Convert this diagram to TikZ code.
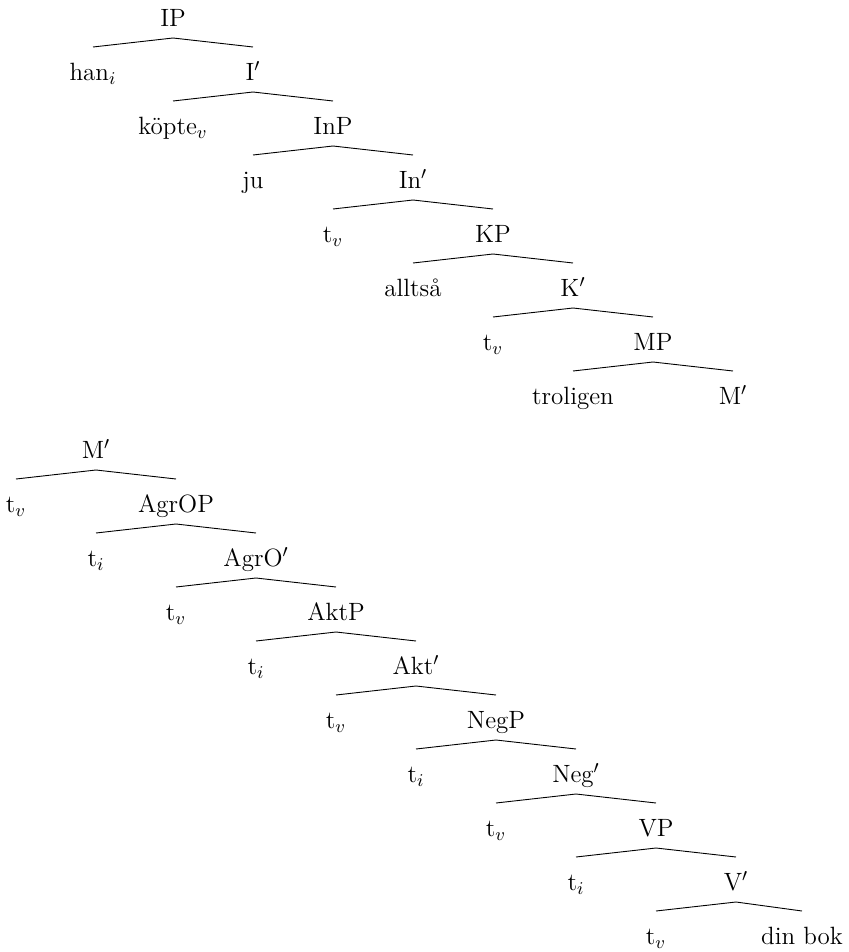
\documentclass[tikz,border=0pt]{standalone}
\usepackage{fontspec}

\tikzset{
  cat/.style={anchor=base, inner sep=0pt, font=\fontsize{12.5}{15}\selectfont},
  branch/.style={line width=0.45pt}
}
\newcommand{\treebranch}[3]{%
  \draw[branch] ([yshift=16.75pt]#2.base) -- ([yshift=-5.75pt]#1.base) -- ([yshift=16.75pt]#3.base);}

\begin{document}
\begin{tikzpicture}[x=0.5pt,y=-0.5pt]
    \useasboundingbox (0,0) rectangle (848,952);

    % upper tree
    \node(ip)[cat] at (173,26.5) {IP};
    \node(han)[cat] at (93,80.5) {han$_i$};
    \node(ibar)[cat] at (253,80.5) {I$'$};
    \node(kopte)[cat] at (173,134.5) {köpte$_v$};
    \node(inp)[cat] at (333,134.5) {InP};
    \node(ju)[cat] at (253,188.5) {ju};
    \node(inbar)[cat] at (413,188.5) {In$'$};
    \node(tva)[cat] at (333,242.5) {t$_v$};
    \node(kp)[cat] at (493,242.5) {KP};
    \node(alltsa)[cat] at (413,296.5) {alltså};
    \node(kbar)[cat] at (573,296.5) {K$'$};
    \node(tvb)[cat] at (493,350.5) {t$_v$};
    \node(mp)[cat] at (653,350.5) {MP};
    \node(troligen)[cat] at (573,404.5) {troligen};
    \node(mbar)[cat] at (733,404.5) {M$'$};

    \treebranch{ip}{han}{ibar}
    \treebranch{ibar}{kopte}{inp}
    \treebranch{inp}{ju}{inbar}
    \treebranch{inbar}{tva}{kp}
    \treebranch{kp}{alltsa}{kbar}
    \treebranch{kbar}{tvb}{mp}
    \treebranch{mp}{troligen}{mbar}

    % lower tree
    \node(mbarb)[cat] at (96,458.5) {M$'$};
    \node(tvc)[cat] at (16,512.5) {t$_v$};
    \node(agrop)[cat] at (176,512.5) {AgrOP};
    \node(tia)[cat] at (96,566.5) {t$_i$};
    \node(agrobar)[cat] at (256,566.5) {AgrO$'$};
    \node(tvd)[cat] at (176,620.5) {t$_v$};
    \node(aktp)[cat] at (336,620.5) {AktP};
    \node(tib)[cat] at (256,674.5) {t$_i$};
    \node(aktbar)[cat] at (416,674.5) {Akt$'$};
    \node(tve)[cat] at (336,728.5) {t$_v$};
    \node(negp)[cat] at (496,728.5) {NegP};
    \node(tic)[cat] at (416,782.5) {t$_i$};
    \node(negbar)[cat] at (576,782.5) {Neg$'$};
    \node(tvf)[cat] at (496,836.5) {t$_v$};
    \node(vp)[cat] at (656,836.5) {VP};
    \node(tid)[cat] at (576,890.5) {t$_i$};
    \node(vbar)[cat] at (736,890.5) {V$'$};
    \node(tvg)[cat] at (656,944.5) {t$_v$};
    \node(dinbok)[cat] at (802,944.5) {din bok};

    \treebranch{mbarb}{tvc}{agrop}
    \treebranch{agrop}{tia}{agrobar}
    \treebranch{agrobar}{tvd}{aktp}
    \treebranch{aktp}{tib}{aktbar}
    \treebranch{aktbar}{tve}{negp}
    \treebranch{negp}{tic}{negbar}
    \treebranch{negbar}{tvf}{vp}
    \treebranch{vp}{tid}{vbar}
    \treebranch{vbar}{tvg}{dinbok}

  \end{tikzpicture}
\end{document}
